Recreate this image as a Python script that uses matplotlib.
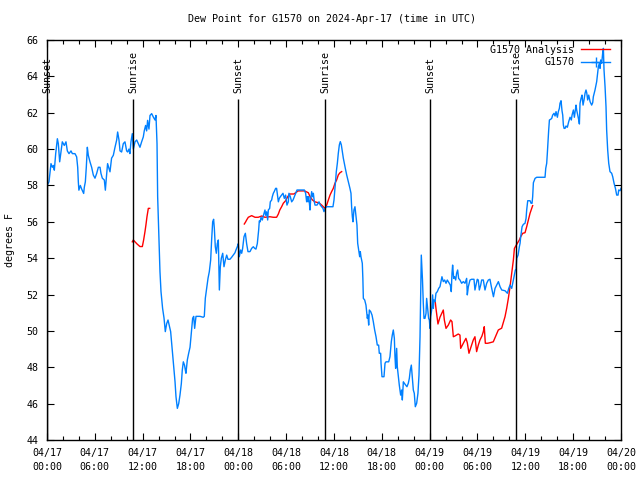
import numpy as np
import pandas as pd
import matplotlib
matplotlib.use("Agg")
import matplotlib.pyplot as plt
import matplotlib.dates as mdates
from matplotlib.lines import Line2D

plt.rcParams['font.family'] = ['DejaVu Sans Mono']
FS = 7.2

START = "2024-04-17 00:00"
END = "2024-04-20 00:00"

# Station observations: hours since 04/17 00:00 UTC, dew point (F)
obs_hours = [0.0, 0.25, 0.5, 0.67, 0.8, 0.92, 1.09, 1.3, 1.42, 1.59, 1.76, 1.92, 2.17, 2.38, 2.55, 2.76,
             3.01, 3.18, 3.51, 3.72, 3.85, 3.93, 4.0, 4.18, 4.35, 4.6, 4.68, 4.81, 4.93, 5.06, 5.18, 5.39,
             5.6, 5.81, 6.02, 6.23, 6.44, 6.65, 6.77, 6.94, 7.19, 7.32, 7.44, 7.6, 7.9, 8.1, 8.32, 8.53,
             8.74, 8.86, 9.03, 9.16, 9.36, 9.57, 9.78, 9.99, 10.12, 10.28, 10.4, 10.53, 10.7, 10.83, 11.04,
             11.25, 11.46, 11.66, 11.87, 12.08, 12.2, 12.37, 12.5, 12.62, 12.79, 12.92, 13.13, 13.34, 13.55,
             13.67, 13.8, 13.88, 14.05, 14.17, 14.3, 14.5, 14.68, 14.84, 15.01, 15.18, 15.34, 15.51, 15.64,
             15.76, 15.93, 16.06, 16.18, 16.35, 16.52, 16.68, 16.85, 16.97, 17.1, 17.26, 17.35, 17.43, 17.6,
             17.77, 17.94, 18.1, 18.27, 18.4, 18.52, 18.69, 18.86, 19.2, 19.6, 19.73, 19.86, 20.03, 20.2,
             20.36, 20.53, 20.65, 20.78, 20.9, 20.99, 21.11, 21.24, 21.36, 21.49, 21.62, 21.74, 21.87, 22.04,
             22.2, 22.37, 22.54, 22.7, 22.95, 23.16, 23.37, 23.58, 23.7, 23.87, 24.0, 24.12, 24.29, 24.42,
             24.54, 24.71, 24.88, 25.04, 25.21, 25.46, 25.67, 25.88, 26.05, 26.21, 26.38, 26.55, 26.63, 26.75,
             26.84, 27.01, 27.13, 27.34, 27.43, 27.55, 27.68, 27.76, 27.93, 28.01, 28.18, 28.26, 28.39, 28.5,
             28.68, 28.8, 29.02, 29.14, 29.27, 29.43, 29.6, 29.77, 29.93, 30.02, 30.1, 30.27, 30.35, 30.52,
             30.69, 30.86, 31.02, 31.19, 31.36, 31.53, 31.94, 32.28, 32.44, 32.57, 32.65, 32.74, 32.82, 32.9,
             32.99, 33.07, 33.2, 33.32, 33.41, 33.53, 33.62, 33.87, 34.12, 34.28, 34.45, 34.62, 34.74, 34.91,
             35.04, 35.29, 35.7, 35.87, 36.0, 36.17, 36.29, 36.42, 36.54, 36.67, 36.79, 36.92, 37.04, 37.17,
             37.29, 37.42, 37.59, 37.8, 38.0, 38.13, 38.21, 38.3, 38.38, 38.5, 38.63, 38.76, 38.88, 38.97,
             39.13, 39.22, 39.3, 39.38, 39.55, 39.62, 39.68, 39.85, 40.01, 40.18, 40.26, 40.35, 40.43, 40.6,
             40.77, 40.93, 41.1, 41.27, 41.43, 41.6, 41.68, 41.85, 41.9, 42.02, 42.27, 42.4, 42.52, 42.86,
             43.02, 43.19, 43.31, 43.44, 43.57, 43.65, 43.73, 43.86, 43.94, 44.07, 44.19, 44.36, 44.49, 44.57,
             44.7, 44.82, 44.99, 45.15, 45.32, 45.45, 45.57, 45.7, 45.82, 45.95, 46.07, 46.2, 46.37, 46.53,
             46.66, 46.79, 46.87, 46.95, 47.04, 47.1, 47.2, 47.29, 47.41, 47.54, 47.62, 47.75, 47.87, 47.96,
             48.04, 48.12, 48.25, 48.37, 48.46, 48.54, 48.67, 48.79, 48.96, 49.13, 49.29, 49.42, 49.54, 49.71,
             49.88, 50.05, 50.21, 50.34, 50.46, 50.59, 50.71, 50.8, 50.88, 51.01, 51.13, 51.26, 51.38, 51.51,
             51.63, 51.8, 52.01, 52.22, 52.43, 52.64, 52.72, 52.85, 53.06, 53.26, 53.56, 53.68, 53.81, 53.97,
             54.1, 54.23, 54.4, 54.52, 54.73, 54.94, 55.15, 55.36, 55.56, 55.78, 56.0, 56.2, 56.41, 56.62,
             56.83, 57.04, 57.45, 57.75, 57.92, 58.08, 58.29, 58.5, 58.67, 58.75, 58.83, 58.92, 59.09, 59.25,
             59.34, 59.42, 59.59, 59.75, 59.96, 60.09, 60.17, 60.3, 60.59, 60.72, 60.84, 60.92, 61.01, 61.22,
             61.43, 62.47, 62.56, 62.68, 62.76, 62.85, 62.93, 63.02, 63.18, 63.31, 63.43, 63.6, 63.73, 63.85,
             64.02, 64.14, 64.27, 64.35, 64.48, 64.6, 64.69, 64.77, 64.86, 64.98, 65.1, 65.27, 65.44, 65.61,
             65.77, 65.86, 66.03, 66.15, 66.28, 66.36, 66.44, 66.57, 66.7, 66.78, 66.86, 66.99, 67.11, 67.24,
             67.36, 67.49, 67.61, 67.7, 67.82, 67.95, 68.12, 68.32, 68.45, 68.53, 68.74, 68.95, 69.04, 69.16,
             69.29, 69.37, 69.45, 69.58, 69.7, 69.79, 69.87, 70.0, 70.12, 70.2, 70.33, 70.46, 70.62, 70.83,
             70.96, 71.13, 71.3, 71.46, 71.63, 71.71, 71.88, 72.0]
obs_dewpt = [58.0, 58.2, 59.2, 59.0, 59.1, 58.84, 59.75, 60.57, 60.3, 59.3, 59.85, 60.4, 60.2, 60.4, 59.9, 59.75,
             59.9, 59.75, 59.75, 59.57, 59.0, 58.2, 57.74, 58.0, 57.8, 57.56, 57.9, 58.2, 59.0, 60.1, 59.66, 59.3,
             59.0, 58.57, 58.4, 58.66, 59.0, 59.0, 58.66, 58.4, 58.3, 57.74, 58.4, 59.2, 58.75, 59.5, 59.66, 60.1,
             60.5, 60.94, 60.5, 59.9, 59.84, 60.3, 60.4, 59.9, 59.84, 60.0, 59.75, 60.4, 60.85, 60.0, 60.4,
             60.5, 60.3, 60.1, 60.4, 60.67, 61.0, 61.3, 61.0, 61.58, 61.1, 61.85, 61.95, 61.76, 61.6,
             61.85, 60.3, 57.38, 55.0, 53.26, 52.16, 51.24, 50.7, 49.96, 50.4, 50.6, 50.3, 49.96, 49.3,
             48.67, 47.76, 47.2, 46.38, 45.74, 46.0, 46.47, 47.1, 47.85, 48.3, 48.1, 47.85, 47.67, 48.4,
             48.77, 49.1, 49.87, 50.7, 50.8, 50.14, 50.8, 50.8, 50.8, 50.75, 50.8, 51.8, 52.34, 52.9,
             53.26, 53.9, 55.0, 56.0, 56.14, 55.64, 54.63, 54.27, 54.8, 55.0, 52.25, 53.53, 54.0, 54.27,
             53.53, 53.9, 54.17, 53.94, 53.94, 54.05, 54.17, 54.3, 54.45, 54.63, 54.8, 54.08, 54.45, 54.27,
             54.54, 55.18, 55.37, 54.8, 54.36, 54.36, 54.54, 54.63, 54.54, 54.5, 54.8, 55.55, 56.05, 56.0,
             56.25, 56.1, 56.32, 56.65, 56.36, 56.55, 56.1, 56.65, 56.74, 57.1, 57.2, 57.38, 57.57, 57.66,
             57.84, 57.84, 57.1, 57.29, 57.38, 57.47, 57.57, 57.29, 57.47, 57.2, 56.92, 57.1, 57.57, 57.38,
             57.1, 57.2, 57.38, 57.57, 57.75, 57.75, 57.75, 57.75, 57.57, 57.1, 57.38, 57.1, 57.38, 57.1,
             56.65, 57.2, 57.66, 57.38, 57.57, 57.1, 56.92, 56.92, 57.1, 56.92, 56.83, 56.74, 56.56, 56.74,
             56.83, 56.83, 56.83, 56.83, 57.2, 58.12, 58.76, 59.22, 59.77, 60.23, 60.41, 60.23, 59.86, 59.5,
             59.22, 58.94, 58.58, 58.21, 57.84, 57.57, 56.83, 56.28, 56.0, 56.65, 56.83, 56.28, 55.82, 54.82,
             54.36, 54.08, 54.36, 54.08, 53.72, 52.89, 51.79, 51.7, 51.42, 50.69, 50.87, 50.32, 51.15, 51.06,
             50.87, 50.51, 50.05, 49.68, 49.22, 49.22, 48.77, 48.77, 48.22, 47.48, 47.48, 48.22, 48.3, 48.3,
             48.58, 49.41, 49.77, 50.05, 49.59, 48.58, 47.94, 49.04, 48.03, 47.48, 47.02, 46.47, 46.75, 46.2,
             47.2, 47.12, 47.02, 46.93, 47.12, 47.39, 47.85, 48.12, 47.48, 46.75, 46.57, 45.83, 46.02, 46.57,
             47.57, 49.68, 52.07, 54.17, 53.35, 52.8, 51.52, 50.69, 50.69, 50.96, 51.79, 51.24, 50.69, 50.6,
             50.14, 50.78, 51.15, 51.98, 51.24, 51.7, 51.61, 52.07, 52.16, 52.34, 52.43, 52.71, 52.98, 52.71,
             52.8, 52.62, 52.8, 52.71, 52.62, 52.52, 52.16, 53.17, 53.62, 52.89, 52.98, 52.8, 53.17, 53.35,
             52.89, 52.8, 52.62, 52.71, 52.62, 52.89, 51.98, 52.43, 52.8, 52.84, 52.84, 52.25, 52.52, 52.84,
             52.8, 52.25, 52.52, 52.8, 52.8, 52.25, 52.62, 52.8, 52.84, 52.34, 51.88, 52.34, 52.52, 52.71,
             52.43, 52.25, 52.21, 52.07, 52.34, 52.52, 52.34, 52.8, 53.17, 53.35, 53.35, 53.99, 54.17, 54.63,
             54.82, 55.18, 55.73, 55.86, 55.92, 56.19, 56.65, 57.16, 57.16, 57.02, 57.02, 57.38, 58.15, 58.39,
             58.45, 58.45, 58.94, 59.22, 59.77, 60.5, 61.05, 61.6, 61.64, 61.69, 61.87, 61.97, 61.82, 62.06,
             61.75, 62.06, 62.24, 62.52, 62.66, 62.11, 61.87, 61.32, 61.14, 61.14, 61.27, 61.2, 61.51, 61.75,
             61.6, 61.87, 62.15, 61.75, 62.15, 62.42, 62.15, 61.87, 61.6, 61.38, 62.52, 62.79, 62.97, 62.42,
             62.7, 63.07, 63.25, 63.1, 62.7, 62.97, 62.61, 62.42, 62.55, 62.88, 63.25, 63.71, 64.07, 64.53,
             64.72, 64.44, 64.9, 64.72, 65.27, 65.54, 64.35, 63.43, 62.33, 61.05, 59.95, 59.22, 58.76, 58.67,
             58.48, 58.12, 57.84, 57.47, 57.47, 57.75, 57.71, 57.84]

# Analysis (three separate segments)
ana1_hours = [10.7, 10.83, 11.04, 11.3, 11.66, 11.96, 12.12, 12.29, 12.41, 12.54, 12.71, 12.88]
ana1_dewpt = [54.9, 55.0, 54.9, 54.78, 54.64, 54.64, 55.0, 55.46, 55.83, 56.28, 56.74, 56.74]
ana2_hours = [24.75, 24.92, 25.04, 25.25, 25.67, 26.09, 26.5, 26.93, 27.34, 27.96, 28.38, 28.8, 29.02, 29.2,
              29.43, 29.64, 29.93, 30.19, 30.44, 30.69, 30.97, 31.5, 32.3, 32.78, 33.0, 33.3, 33.6, 34.03,
              34.24, 34.45, 34.66, 34.87, 35.08, 35.29, 35.5, 35.7, 35.91, 36.12, 36.33, 36.54, 36.75, 36.96]
ana2_dewpt = [55.88, 56.0, 56.1, 56.25, 56.34, 56.25, 56.25, 56.32, 56.25, 56.28, 56.25, 56.25, 56.43, 56.65,
              56.83, 57.02, 57.16, 57.38, 57.53, 57.53, 57.53, 57.7, 57.7, 57.6, 57.38, 57.2, 57.1, 57.05,
              57.0, 56.92, 56.83, 56.74, 56.92, 57.2, 57.47, 57.66, 57.84, 58.12, 58.3, 58.58, 58.7, 58.76]
ana3_hours = [48.7, 48.79, 49.04, 49.29, 49.71, 49.84, 50.05, 50.34, 50.63, 50.8, 50.97, 51.17, 51.59, 51.8,
              51.89, 52.22, 52.55, 52.72, 52.93, 53.26, 53.47, 53.68, 53.89, 54.1, 54.31, 54.56, 54.73, 54.85,
              54.98, 55.27, 55.56, 55.98, 56.61, 57.03, 57.45, 57.66, 57.87, 58.08, 58.29, 58.5, 58.63, 58.75,
              59.0, 59.25, 59.42, 59.67, 59.96, 60.17, 60.38, 60.59, 60.8, 60.92]
ana3_dewpt = [51.6, 51.24, 50.38, 50.75, 51.15, 50.6, 50.14, 50.32, 50.6, 50.51, 49.68, 49.72, 49.83, 49.77,
              49.04, 49.32, 49.59, 49.35, 48.77, 49.22, 49.5, 49.68, 48.86, 49.22, 49.5, 49.72, 49.96, 50.23,
              49.32, 49.32, 49.35, 49.4, 50.05, 50.15, 50.78, 51.24, 51.79, 52.43, 53.17, 53.9, 54.54, 54.63,
              54.82, 55.0, 55.18, 55.37, 55.4, 55.73, 56.1, 56.47, 56.74, 56.89]

sun_times = ["2024-04-17 00:00", "2024-04-17 10:50", "2024-04-18 00:00",
             "2024-04-18 10:55", "2024-04-19 00:05", "2024-04-19 10:50"]
sun_labels = ["Sunset", "Sunrise", "Sunset", "Sunrise", "Sunset", "Sunrise"]

y_ticks = [44, 46, 48, 50, 52, 54, 56, 58, 60, 62, 64, 66]

title = "Dew Point for G1570 on 2024-Apr-17 (time in UTC)"
ylabel = "degrees F"
legend_labels = ["G1570 Analysis", "G1570"]

BLUE = "#0080ff"
RED = "#ff0000"

base = pd.Timestamp(START)


def to_time(hours):
    return base + pd.to_timedelta(np.asarray(hours, dtype=float), unit="h")


fig = plt.figure(figsize=(6.4, 4.8), dpi=100)
ax = fig.add_axes([47 / 640, 1 - 440 / 480, (621 - 47) / 640, 400 / 480])

for hh, vv in [(ana1_hours, ana1_dewpt), (ana2_hours, ana2_dewpt), (ana3_hours, ana3_dewpt)]:
    ax.plot(to_time(hh), vv, color=RED, lw=1.0)
ax.plot(to_time(obs_hours), obs_dewpt, color=BLUE, lw=1.0)

line_top = 62.75
for t, lab in zip(sun_times, sun_labels):
    ts = pd.Timestamp(t)
    ax.vlines(ts, y_ticks[0], line_top, color="black", lw=1.0)
    ax.text(ts, 63.1, lab, rotation=90, ha="center", va="bottom", fontsize=FS)

ax.set_xlim(pd.Timestamp(START), pd.Timestamp(END))
ax.set_ylim(y_ticks[0], y_ticks[-1])
ax.set_yticks(y_ticks)
ax.xaxis.set_major_locator(mdates.HourLocator(byhour=[0, 6, 12, 18]))
ax.xaxis.set_minor_locator(mdates.HourLocator(byhour=range(0, 24, 2)))
ax.xaxis.set_major_formatter(mdates.DateFormatter("%m/%d\n%H:%M"))
for lab in ax.get_xticklabels():
    lab.set_linespacing(1.45)
ax.tick_params(axis="both", which="both", direction="in", top=True, right=True,
               labelsize=FS, width=0.8, colors="black")
ax.tick_params(axis="both", which="major", length=5, pad=6)
ax.tick_params(axis="x", which="minor", length=3)
for sp in ax.spines.values():
    sp.set_linewidth(1.0)

handles = [Line2D([], [], color=RED, lw=1.0),
           Line2D([], [], color=BLUE, lw=1.0, marker="+", markersize=7, markeredgewidth=1.0)]
leg = ax.legend(handles, legend_labels, loc="upper right", bbox_to_anchor=(0.981, 0.9875),
                frameon=False, markerfirst=False, fontsize=FS, handlelength=2.9,
                handletextpad=0.7, labelspacing=0.25, borderaxespad=0, borderpad=0)

fig.text(332 / 640, 1 - 19 / 480, title, ha="center", va="center", fontsize=FS)
fig.text(10 / 640, 0.5, ylabel, rotation=90, ha="center", va="center", fontsize=FS)

fig.savefig("out.png", dpi=100)
